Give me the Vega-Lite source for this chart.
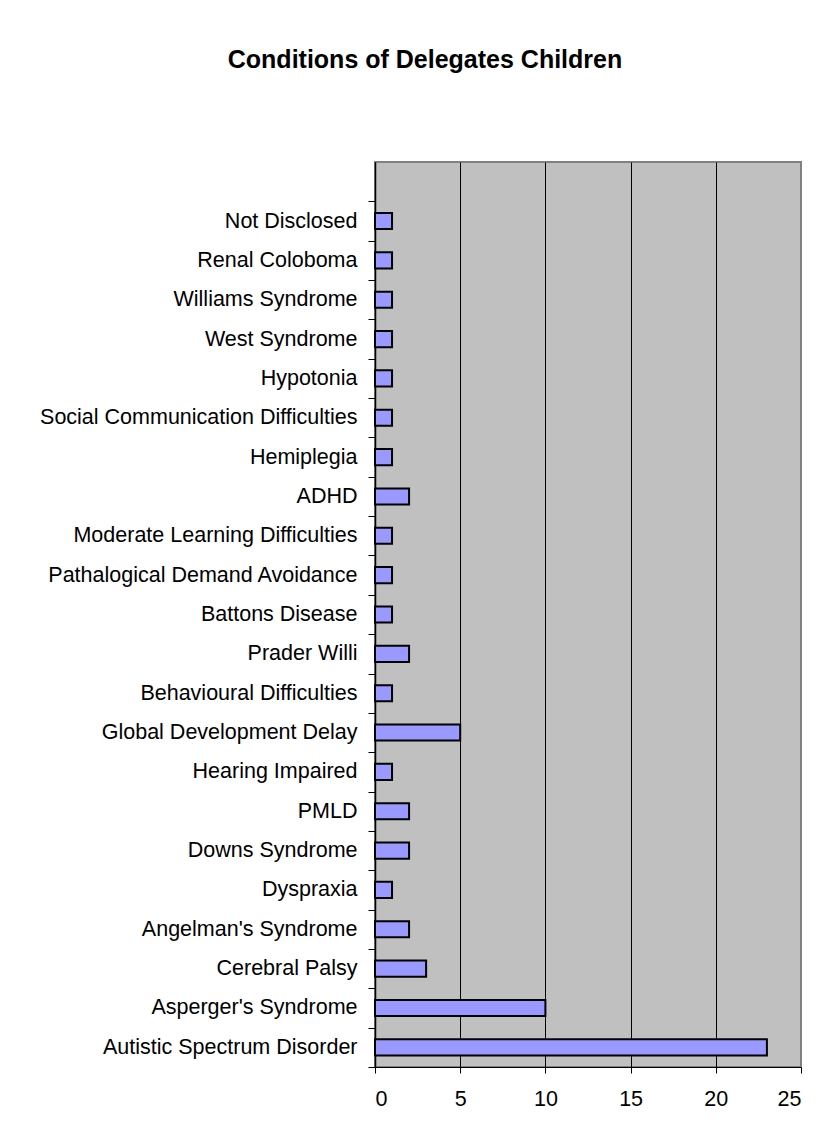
{
  "$schema": "https://vega.github.io/schema/vega-lite/v6.json",
  "autosize": "none",
  "width": 426,
  "height": 905,
  "padding": {"left": 375, "top": 162, "right": 22, "bottom": 62},
  "background": "white",
  "title": {
    "text": "Conditions of Delegates Children",
    "font": "Liberation Sans",
    "fontSize": 25,
    "fontWeight": "bold",
    "color": "black",
    "anchor": "middle",
    "frame": "group",
    "dx": -163,
    "baseline": "alphabetic",
    "offset": 58
  },
  "config": {
    "view": {"fill": "#C0C0C0", "stroke": "#808080", "strokeWidth": 2},
    "font": "Liberation Sans"
  },
  "data": {
    "values": [
      {"condition": "Not Disclosed", "count": 1},
      {"condition": "Renal Coloboma", "count": 1},
      {"condition": "Williams Syndrome", "count": 1},
      {"condition": "West Syndrome", "count": 1},
      {"condition": "Hypotonia", "count": 1},
      {"condition": "Social Communication Difficulties", "count": 1},
      {"condition": "Hemiplegia", "count": 1},
      {"condition": "ADHD", "count": 2},
      {"condition": "Moderate Learning Difficulties", "count": 1},
      {"condition": "Pathalogical Demand Avoidance", "count": 1},
      {"condition": "Battons Disease", "count": 1},
      {"condition": "Prader Willi", "count": 2},
      {"condition": "Behavioural Difficulties", "count": 1},
      {"condition": "Global Development Delay", "count": 5},
      {"condition": "Hearing Impaired", "count": 1},
      {"condition": "PMLD", "count": 2},
      {"condition": "Downs Syndrome", "count": 2},
      {"condition": "Dyspraxia", "count": 1},
      {"condition": "Angelman's Syndrome", "count": 2},
      {"condition": "Cerebral Palsy", "count": 3},
      {"condition": "Asperger's Syndrome", "count": 10},
      {"condition": "Autistic Spectrum Disorder", "count": 23}
    ]
  },
  "mark": {
    "type": "bar",
    "fill": "#9999FF",
    "stroke": "black",
    "strokeWidth": 2,
    "height": {"band": 0.41}
  },
  "encoding": {
    "y": {
      "field": "condition",
      "type": "nominal",
      "sort": null,
      "scale": {"paddingInner": 0, "paddingOuter": 0.5, "align": 1},
      "axis": {
        "title": null,
        "labelFontSize": 21.5,
        "labelColor": "black",
        "labelFont": "Liberation Sans",
        "labelLimit": 500,
        "labelPadding": 11,
        "tickSize": 7,
        "tickBand": "extent",
        "tickColor": "black",
        "domainColor": "black",
        "domainWidth": 1.5,
        "grid": false
      }
    },
    "x": {
      "field": "count",
      "type": "quantitative",
      "scale": {"domain": [0, 25], "nice": false},
      "axis": {
        "title": null,
        "values": [0, 5, 10, 15, 20, 25],
        "labelFontSize": 21.5,
        "labelColor": "black",
        "labelFont": "Liberation Sans",
        "labelPadding": 15,
        "tickSize": 6,
        "tickColor": "black",
        "domainColor": "black",
        "grid": true,
        "gridColor": {"condition": {"test": "datum.value === 25", "value": "#808080"}, "value": "black"},
        "gridOpacity": 1,
        "gridWidth": 1
      }
    }
  }
}
